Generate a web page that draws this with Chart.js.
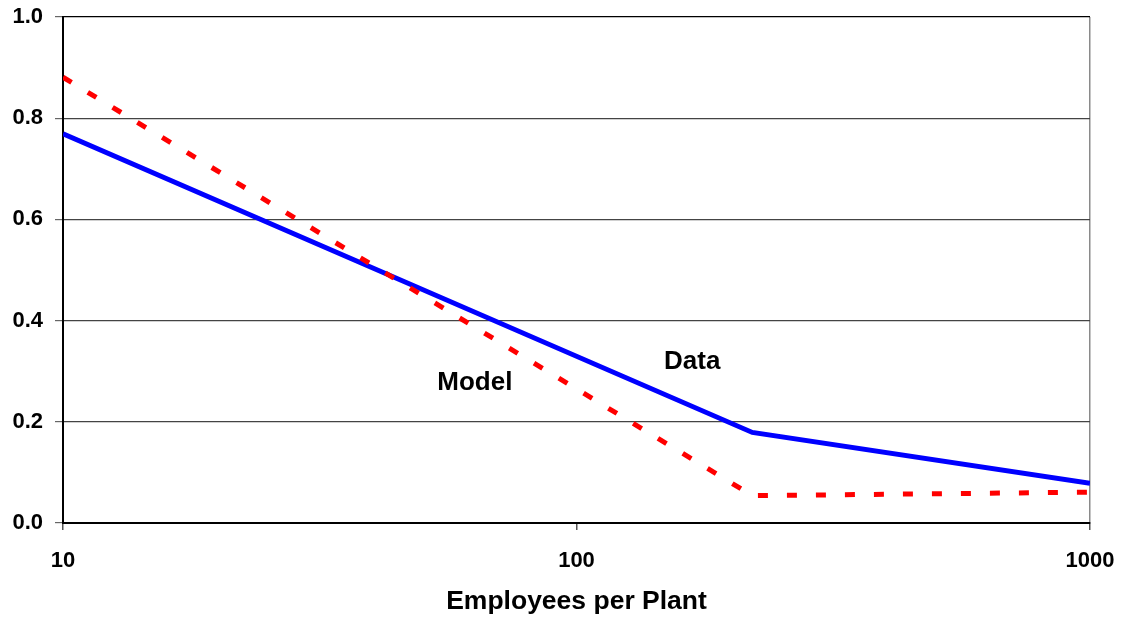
<!DOCTYPE html>
<html>
<head>
<meta charset="utf-8">
<script src="https://cdn.jsdelivr.net/npm/chart.js@4.4.0/dist/chart.umd.min.js"></script>
<style>
  html, body { margin: 0; padding: 0; background: #ffffff; }
  #wrap { width: 1124px; height: 621px; position: relative; }
</style>
</head>
<body>
<div id="wrap"><canvas id="c"></canvas></div>
<script>
// ---- data ----
const employees = [10, 220, 1000];
const dataSeries = [0.769, 0.179, 0.0785];
const modelSeries = [0.881, 0.054, 0.061];
const xTickValues = [10, 100, 1000];
const yTickValues = [0, 0.2, 0.4, 0.6, 0.8, 1.0];
const seriesNames = ['Data', 'Model'];
const xAxisTitle = 'Employees per Plant';
// in-chart labels, placed in data coordinates
const labelTexts = ['Model', 'Data'];
const labelX = [63.4, 168];
const labelY = [0.277, 0.318];

const FONT = "'Liberation Sans', Arial, Helvetica, sans-serif";
Chart.defaults.font.family = FONT;
Chart.defaults.color = '#000';

const textLabels = {
  id: 'textLabels',
  afterDatasetsDraw(chart) {
    const {ctx, scales: {x, y}} = chart;
    ctx.save();
    ctx.font = 'bold 26px ' + FONT;
    ctx.fillStyle = '#000';
    ctx.textAlign = 'center';
    ctx.textBaseline = 'middle';
    labelTexts.forEach((t, i) => {
      ctx.fillText(t, x.getPixelForValue(labelX[i]), y.getPixelForValue(labelY[i]));
    });
    ctx.restore();
  }
};

new Chart(document.getElementById('c'), {
  type: 'line',
  data: {
    datasets: [
      {
        label: seriesNames[1],
        data: employees.map((e, i) => ({x: e, y: modelSeries[i]})),
        borderColor: '#ff0000',
        borderWidth: 5,
        borderDash: [10, 19],
        borderCapStyle: 'butt',
        pointRadius: 0,
        tension: 0,
        fill: false
      },
      {
        label: seriesNames[0],
        data: employees.map((e, i) => ({x: e, y: dataSeries[i]})),
        borderColor: '#0000ff',
        borderWidth: 5,
        pointRadius: 0,
        tension: 0,
        fill: false
      }
    ]
  },
  options: {
    responsive: true,
    maintainAspectRatio: false,
    animation: false,
    layout: { padding: { left: 0, right: 34, top: 17, bottom: 0 } },
    plugins: { legend: { display: false }, tooltip: { enabled: false } },
    scales: {
      x: {
        type: 'logarithmic',
        min: 10,
        max: 1000,
        afterBuildTicks(scale) { scale.ticks = xTickValues.map(v => ({value: v})); },
        afterFit(scale) { scale.height = 98; scale.paddingLeft = 0; scale.paddingRight = 0; },
        border: { display: true, color: '#000', width: 2 },
        grid: {
          drawOnChartArea: true,
          drawTicks: true,
          tickLength: 7,
          color: (c) => (c.tick && c.tick.value === 1000) ? '#8a8a8a' : 'rgba(0,0,0,0)',
          tickColor: '#555',
          lineWidth: 1.5
        },
        ticks: {
          font: { size: 22, weight: 'bold' },
          color: '#000',
          padding: 18,
          maxRotation: 0,
          autoSkip: false,
          callback: (v) => String(v)
        },
        title: {
          display: true,
          text: xAxisTitle,
          font: { size: 26.5, weight: 'bold' },
          color: '#000',
          padding: { top: 0, bottom: 3 }
        }
      },
      y: {
        type: 'linear',
        min: 0,
        max: 1,
        afterBuildTicks(scale) { scale.ticks = yTickValues.map(v => ({value: v})); },
        afterFit(scale) { scale.width = 63; scale.paddingTop = 0; scale.paddingBottom = 0; },
        border: { display: true, color: '#000', width: 2 },
        grid: {
          drawTicks: true,
          tickLength: 8,
          color: (c) => (c.tick && Math.abs(c.tick.value - 1) < 1e-9) ? '#000' : '#444',
          tickColor: '#666',
          lineWidth: 1.2
        },
        ticks: {
          font: { size: 22, weight: 'bold' },
          color: '#000',
          padding: 12,
          callback: (v) => Number(v).toFixed(1)
        }
      }
    }
  },
  plugins: [textLabels]
});
</script>
</body>
</html>
